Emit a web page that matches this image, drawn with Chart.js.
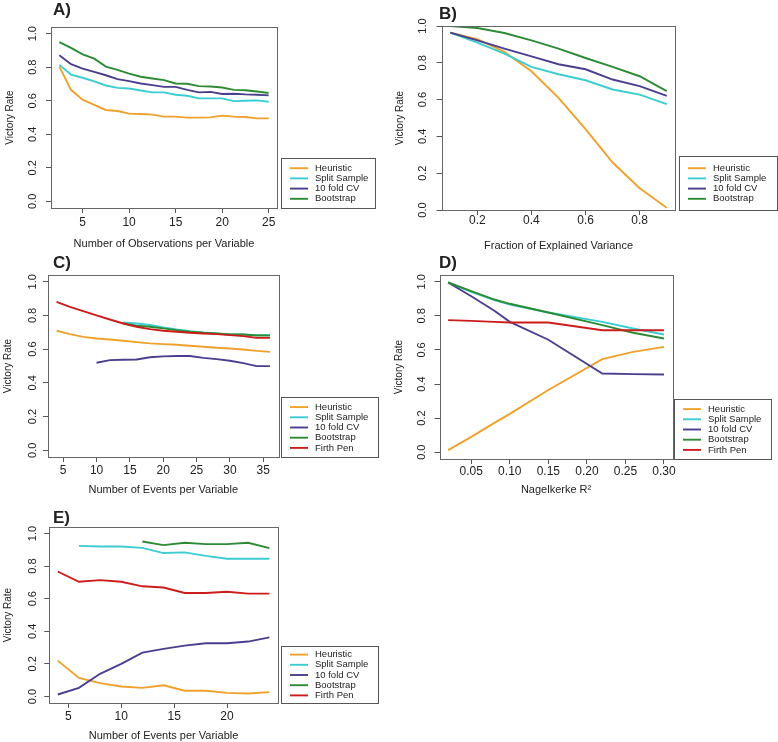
<!DOCTYPE html>
<html>
<head>
<meta charset="utf-8">
<title>Victory rate by simulation setting</title>
<script src="https://cdn.jsdelivr.net/npm/chart.js@4/dist/chart.umd.min.js"></script>
<style>
  html, body { margin: 0; padding: 0; background: #fff; overflow: hidden; }
  #figure { position: relative; width: 778px; height: 742px; }
  #figure canvas { position: absolute; }
</style>
</head>
<body>
<div id="figure">
  <canvas id="panelA"></canvas>
  <canvas id="panelB"></canvas>
  <canvas id="panelC"></canvas>
  <canvas id="panelD"></canvas>
  <canvas id="panelE"></canvas>
</div>
<script>
// series names shared by all panels (A and B have no Firth Pen line)
const seriesNames = ['Heuristic', 'Split Sample', '10 fold CV', 'Bootstrap', 'Firth Pen'];
const yTicks = [0, 0.2, 0.4, 0.6, 0.8, 1.0];

// A) observations per variable
const aObsPerVar = [2.5, 3.75, 5, 6.25, 7.5, 8.75, 10, 11.25, 12.5, 13.75, 15, 16.25, 17.5, 18.75, 20, 21.25, 22.5, 23.75, 25];
const aHeuristic = [0.804, 0.665, 0.606, 0.576, 0.545, 0.539, 0.523, 0.521, 0.517, 0.505, 0.505, 0.499, 0.499, 0.501, 0.511, 0.505, 0.503, 0.495, 0.495];
const aSplit = [0.814, 0.756, 0.737, 0.715, 0.691, 0.677, 0.673, 0.661, 0.650, 0.650, 0.636, 0.630, 0.614, 0.614, 0.614, 0.598, 0.600, 0.602, 0.594];
const aCV = [0.871, 0.818, 0.792, 0.772, 0.752, 0.729, 0.717, 0.703, 0.693, 0.683, 0.683, 0.665, 0.650, 0.653, 0.640, 0.642, 0.638, 0.636, 0.632];
const aBoot = [0.950, 0.915, 0.877, 0.851, 0.804, 0.784, 0.762, 0.743, 0.733, 0.723, 0.703, 0.701, 0.687, 0.685, 0.679, 0.665, 0.663, 0.655, 0.646];
const aTicks = [5, 10, 15, 20, 25];

// B) fraction of explained variance
const bVariance = [0.1, 0.2, 0.3, 0.4, 0.5, 0.6, 0.7, 0.8, 0.9];
const bHeuristic = [0.964, 0.928, 0.859, 0.754, 0.609, 0.440, 0.258, 0.118, 0.012];
const bSplit = [0.964, 0.910, 0.850, 0.778, 0.738, 0.705, 0.655, 0.627, 0.575];
const bCV = [0.964, 0.922, 0.877, 0.835, 0.792, 0.765, 0.709, 0.673, 0.620];
const bBoot = [1.0, 0.989, 0.962, 0.922, 0.877, 0.826, 0.778, 0.727, 0.646];
const bTicks = [0.2, 0.4, 0.6, 0.8];

// C) events per variable
const cEPV = [4, 6, 8, 10, 12, 14, 16, 18, 20, 22, 24, 26, 28, 30, 32, 34, 36];
const cHeuristic = [0.709, 0.689, 0.673, 0.663, 0.657, 0.650, 0.642, 0.634, 0.630, 0.626, 0.620, 0.614, 0.608, 0.604, 0.598, 0.590, 0.584];
const cSplit = [null, null, null, null, null, 0.758, 0.752, 0.743, 0.729, 0.717, 0.707, 0.699, 0.693, 0.687, 0.687, 0.683, 0.683];
const cCV = [null, null, null, 0.519, 0.535, 0.537, 0.539, 0.552, 0.557, 0.559, 0.559, 0.548, 0.541, 0.531, 0.517, 0.499, 0.499];
const cBoot = [null, null, null, null, null, 0.752, 0.739, 0.733, 0.723, 0.713, 0.703, 0.697, 0.693, 0.687, 0.687, 0.681, 0.681];
const cFirth = [0.881, 0.851, 0.826, 0.800, 0.776, 0.752, 0.733, 0.719, 0.709, 0.703, 0.697, 0.693, 0.689, 0.683, 0.677, 0.667, 0.667];
const cTicks = [5, 10, 15, 20, 25, 30, 35];

// D) Nagelkerke R2
const dR2 = [0.02, 0.05, 0.08, 0.10, 0.15, 0.22, 0.26, 0.30];
const dHeuristic = [0.012, 0.090, 0.172, 0.225, 0.365, 0.546, 0.589, 0.618];
const dSplit = [0.996, 0.941, 0.892, 0.867, 0.820, 0.765, 0.726, 0.691];
const dCV = [0.996, 0.915, 0.830, 0.765, 0.660, 0.462, 0.458, 0.456];
const dBoot = [0.996, 0.945, 0.896, 0.871, 0.820, 0.746, 0.701, 0.667];
const dFirth = [0.775, 0.771, 0.765, 0.761, 0.761, 0.716, 0.716, 0.716];
const dTicks = [0.05, 0.10, 0.15, 0.20, 0.25, 0.30];

// E) events per variable, second setting
const eEPV = [4, 6, 8, 10, 12, 14, 16, 18, 20, 22, 24];
const eHeuristic = [0.220, 0.114, 0.082, 0.061, 0.053, 0.069, 0.035, 0.035, 0.022, 0.018, 0.027];
const eSplit = [null, 0.924, 0.920, 0.920, 0.912, 0.880, 0.884, 0.863, 0.845, 0.845, 0.845];
const eCV = [0.012, 0.053, 0.139, 0.200, 0.269, 0.292, 0.312, 0.327, 0.327, 0.337, 0.363];
const eBoot = [null, null, null, null, 0.951, 0.929, 0.943, 0.935, 0.935, 0.943, 0.910];
const eFirth = [0.767, 0.704, 0.714, 0.704, 0.676, 0.669, 0.635, 0.635, 0.643, 0.631, 0.631];
const eTicks = [5, 10, 15, 20];

const seriesColors = ['#F0A12C', '#3CCDD2', '#4A3F8E', '#2E8B35', '#CC1C1C'];
const FONT = '"Liberation Sans", Arial, Helvetica, sans-serif';
const INK = '#222';
const X_AXIS_H = 45;
const LINE_W = 1.9;

const panels = [
  { id: 'panelA', tag: 'A)', left: 0, top: 0, width: 389,
    area: { l: 51, t: 27, r: 277, b: 208 },
    x: aObsPerVar, series: [aHeuristic, aSplit, aCV, aBoot], xTicks: aTicks, digits: 0,
    xMin: 1.6, xMax: 25.9, yMin: -0.04, yMax: 1.04,
    xTitle: 'Number of Observations per Variable',
    tickGap: 14.5, titleGap: 35.5, yGap: 18, yTitleX: 10.5,
    legend: { gap: 4, w: 94, h: 50 }, tagX: 53, tagY: 15 },
  { id: 'panelB', tag: 'B)', left: 389, top: 0, width: 389,
    area: { l: 52.6, t: 26, r: 286.4, b: 210 },
    x: bVariance, series: [bHeuristic, bSplit, bCV, bBoot], xTicks: bTicks, digits: 1,
    xMin: 0.068, xMax: 0.932, yMin: 0, yMax: 1,
    xTitle: 'Fraction of Explained Variance',
    tickGap: 11, titleGap: 36, yGap: 18.5, yTitleX: 11,
    legend: { gap: 3.6, w: 98, h: 54 }, tagX: 50, tagY: 19 },
  { id: 'panelC', tag: 'C)', left: 0, top: 245, width: 389,
    area: { l: 48, t: 30, r: 278.5, b: 212 },
    x: cEPV, series: [cHeuristic, cSplit, cCV, cBoot, cFirth], xTicks: cTicks, digits: 0,
    xMin: 2.72, xMax: 37.28, yMin: -0.04, yMax: 1.04,
    xTitle: 'Number of Events per Variable',
    tickGap: 14, titleGap: 33, yGap: 15.5, yTitleX: 8.5,
    legend: { gap: 2.5, w: 97, h: 60 }, tagX: 53, tagY: 23 },
  { id: 'panelD', tag: 'D)', left: 389, top: 245, width: 389,
    area: { l: 50.5, t: 30, r: 283.6, b: 214 },
    x: dR2, series: [dHeuristic, dSplit, dCV, dBoot, dFirth], xTicks: dTicks, digits: 2,
    xMin: 0.0088, xMax: 0.3112, yMin: -0.04, yMax: 1.04,
    xTitle: 'Nagelkerke R\u00B2',
    tickGap: 13, titleGap: 31, yGap: 17.5, yTitleX: 10,
    legend: { gap: 1.5, w: 97, h: 60 }, tagX: 50, tagY: 23 },
  { id: 'panelE', tag: 'E)', left: 0, top: 495, width: 389,
    area: { l: 49.3, t: 32, r: 277.8, b: 208 },
    x: eEPV, series: [eHeuristic, eSplit, eCV, eBoot, eFirth], xTicks: eTicks, digits: 0,
    xMin: 3.2, xMax: 24.8, yMin: -0.04, yMax: 1.04,
    xTitle: 'Number of Events per Variable',
    tickGap: 14, titleGap: 33, yGap: 16, yTitleX: 8.5,
    legend: { gap: 3.2, w: 97, h: 57 }, tagX: 53, tagY: 28 }
];

// R-like decorations: plot box, rotated y tick labels, boxed legend, panel tag
const rStyle = {
  id: 'rStyle',
  afterDraw(chart, args, opts) {
    const { ctx, chartArea: a } = chart;
    const yScale = chart.scales.y;
    ctx.save();
    ctx.strokeStyle = '#666';
    ctx.lineWidth = 1;
    const l = Math.round(a.left), t = Math.round(a.top);
    ctx.strokeRect(l + 0.5, t + 0.5, Math.round(a.right) - l, Math.round(a.bottom) - t);

    ctx.fillStyle = INK;
    ctx.font = '11px ' + FONT;
    ctx.textAlign = 'center';
    ctx.textBaseline = 'middle';
    yScale.ticks.forEach(tk => {
      ctx.save();
      ctx.translate(a.left - opts.yGap, yScale.getPixelForValue(tk.value));
      ctx.rotate(-Math.PI / 2);
      ctx.fillText(tk.value.toFixed(1), 0, 0);
      ctx.restore();
    });

    const lg = opts.legend;
    const bx = Math.round(a.right + lg.gap), by = Math.round(a.bottom - lg.h);
    ctx.strokeStyle = '#555';
    ctx.strokeRect(bx + 0.5, by + 0.5, lg.w, lg.h);
    const sets = chart.data.datasets;
    const rowH = 10.2;
    const y0 = by + (lg.h - sets.length * rowH) / 2 + rowH / 2 + 0.5;
    ctx.font = '9.5px ' + FONT;
    ctx.textAlign = 'left';
    sets.forEach((ds, i) => {
      const yy = y0 + i * rowH;
      ctx.strokeStyle = ds.borderColor;
      ctx.lineWidth = LINE_W;
      ctx.beginPath();
      ctx.moveTo(bx + 9, yy);
      ctx.lineTo(bx + 27, yy);
      ctx.stroke();
      ctx.fillText(ds.label, bx + 34, yy);
    });

    ctx.font = 'bold 17px ' + FONT;
    ctx.textBaseline = 'alphabetic';
    ctx.fillText(opts.tag, opts.tagX, opts.tagY);
    ctx.restore();
  }
};

panels.forEach(p => {
  const canvas = document.getElementById(p.id);
  const height = p.area.b + X_AXIS_H;
  canvas.width = p.width;
  canvas.height = height;
  canvas.style.left = p.left + 'px';
  canvas.style.top = p.top + 'px';

  const datasets = p.series.map((ys, i) => ({
    label: seriesNames[i],
    data: p.x.map((xv, j) => ({ x: xv, y: ys[j] })),
    borderColor: seriesColors[i],
    borderWidth: LINE_W,
    pointRadius: 0,
    tension: 0,
    fill: false,
    order: p.series.length - i
  }));

  const tickLine = { display: true, drawOnChartArea: false, drawTicks: true, tickLength: 5, color: '#555' };

  new Chart(canvas, {
    type: 'line',
    data: { datasets },
    plugins: [rStyle],
    options: {
      responsive: false,
      animation: false,
      devicePixelRatio: 1,
      layout: { padding: { left: 0, top: p.area.t, right: p.width - p.area.r, bottom: 0 } },
      plugins: {
        legend: { display: false },
        tooltip: { enabled: false },
        rStyle: { tag: p.tag, tagX: p.tagX, tagY: p.tagY, yGap: p.yGap, legend: p.legend }
      },
      scales: {
        x: {
          type: 'linear',
          min: p.xMin,
          max: p.xMax,
          afterBuildTicks: s => { s.ticks = p.xTicks.map(v => ({ value: v })); },
          afterFit: s => { s.height = X_AXIS_H; s.paddingLeft = 0; s.paddingRight = 0; },
          grid: tickLine,
          border: { display: false },
          ticks: {
            autoSkip: false,
            maxRotation: 0,
            padding: p.tickGap - 5 - 7.2,
            color: INK,
            font: { family: FONT, size: 12 },
            callback: v => Number(v).toFixed(p.digits)
          },
          title: {
            display: true,
            text: p.xTitle,
            color: INK,
            font: { family: FONT, size: 11 },
            padding: { top: 0, bottom: X_AXIS_H - p.titleGap - 6.6 }
          }
        },
        y: {
          type: 'linear',
          min: p.yMin,
          max: p.yMax,
          afterBuildTicks: s => { s.ticks = yTicks.map(v => ({ value: v })); },
          afterFit: s => { s.width = p.area.l; s.paddingTop = 0; s.paddingBottom = 0; },
          grid: tickLine,
          border: { display: false },
          ticks: { display: false },
          title: {
            display: true,
            text: 'Victory Rate',
            color: INK,
            font: { family: FONT, size: 10 },
            padding: { top: p.yTitleX - 6, bottom: 0 }
          }
        }
      }
    }
  });
});
</script>
</body>
</html>
